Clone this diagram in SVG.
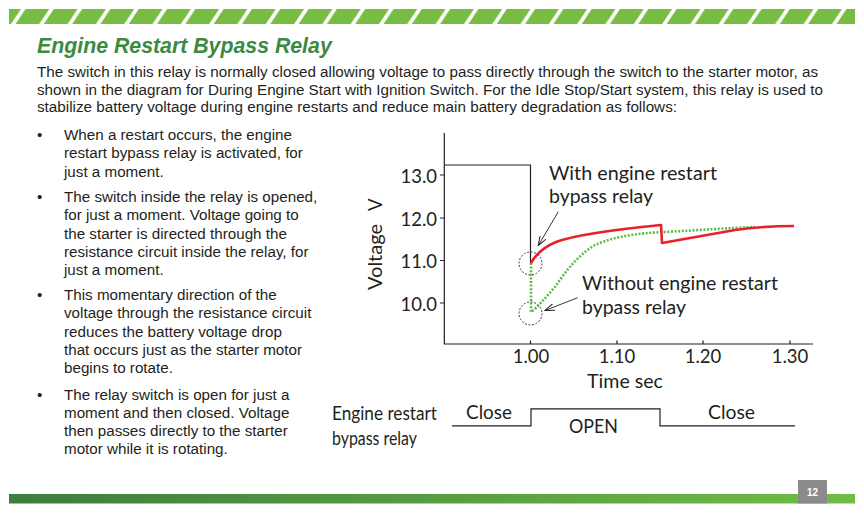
<svg xmlns="http://www.w3.org/2000/svg" width="864" height="513" viewBox="0 0 864 513">
<defs>
<pattern id="stripes" patternUnits="userSpaceOnUse" x="10" y="9" width="28.31" height="15">
<rect x="0" y="0" width="28.31" height="15" fill="#77bc43"/>
<polygon points="1,15 5.5,15 15.5,0 11,0" fill="#ffffff"/>
</pattern>
<linearGradient id="barGrad" x1="0" y1="0" x2="1" y2="0">
<stop offset="0" stop-color="#3b7e3f"/>
<stop offset="1" stop-color="#70bd44"/>
</linearGradient>
<marker id="openArrow" viewBox="0 0 10 8" refX="9.5" refY="4" markerWidth="10" markerHeight="8" markerUnits="userSpaceOnUse" orient="auto">
<path d="M0,0.5 L9.5,4 L0,7.5" fill="none" stroke="#231f20" stroke-width="1"/>
</marker>
<style>
.body{font-family:"Liberation Sans",Arial,sans-serif;font-size:15.2px;fill:#231f20}
.chart{font-family:Lato,"Open Sans",sans-serif;font-size:18.5px;fill:#231f20}
.axis{stroke:#231f20;stroke-width:1.2;fill:none}
.circ{fill:none;stroke:#3a3a3a;stroke-width:1;stroke-dasharray:2 1.6}
.conn{stroke:#231f20;stroke-width:0.9;fill:none;marker-end:url(#openArrow)}
</style>
</defs>
<rect width="864" height="513" fill="#ffffff"/>

<g id="header">
<rect x="9" y="9" width="846" height="15" fill="url(#stripes)"/>
</g>

<g id="title">
<text x="37" y="53" font-family="'Liberation Sans',Arial,sans-serif" font-size="21.3" font-weight="bold" font-style="italic" fill="#3c8a3f">Engine Restart Bypass Relay</text>
</g>

<g id="intro">
<text class="body" x="37" y="77" textLength="781" lengthAdjust="spacingAndGlyphs">The switch in this relay is normally closed allowing voltage to pass directly through the switch to the starter motor, as</text>
<text class="body" x="37" y="94.5" textLength="786" lengthAdjust="spacingAndGlyphs">shown in the diagram for During Engine Start with Ignition Switch. For the Idle Stop/Start system, this relay is used to</text>
<text class="body" x="37" y="112" textLength="640" lengthAdjust="spacingAndGlyphs">stabilize battery voltage during engine restarts and reduce main battery degradation as follows:</text>
</g>

<g id="bullet1">
<text class="body" x="37" y="140">•</text>
<text class="body" x="64" y="140">When a restart occurs, the engine</text>
<text class="body" x="64" y="158.3">restart bypass relay is activated, for</text>
<text class="body" x="64" y="176.6">just a moment.</text>
</g>
<g id="bullet2">
<text class="body" x="37" y="202">•</text>
<text class="body" x="64" y="202">The switch inside the relay is opened,</text>
<text class="body" x="64" y="220.3">for just a moment. Voltage going to</text>
<text class="body" x="64" y="238.6">the starter is directed through the</text>
<text class="body" x="64" y="256.9">resistance circuit inside the relay, for</text>
<text class="body" x="64" y="275.2">just a moment.</text>
</g>
<g id="bullet3">
<text class="body" x="37" y="300">•</text>
<text class="body" x="64" y="300">This momentary direction of the</text>
<text class="body" x="64" y="318.3">voltage through the resistance circuit</text>
<text class="body" x="64" y="336.6">reduces the battery voltage drop</text>
<text class="body" x="64" y="354.9">that occurs just as the starter motor</text>
<text class="body" x="64" y="373.2">begins to rotate.</text>
</g>
<g id="bullet4">
<text class="body" x="37" y="399.5">•</text>
<text class="body" x="64" y="399.5">The relay switch is open for just a</text>
<text class="body" x="64" y="417.8">moment and then closed. Voltage</text>
<text class="body" x="64" y="436.1">then passes directly to the starter</text>
<text class="body" x="64" y="454.4">motor while it is rotating.</text>
</g>

<g id="chart-axes">
<path class="axis" d="M444.3,133 L444.3,344 L813,344"/>
<path class="axis" d="M440,175 H444.3 M440,218 H444.3 M440,260.5 H444.3 M440,303 H444.3"/>
<path class="axis" d="M530.5,344 V340.5 M617,344 V340.5 M703,344 V340.5 M790,344 V340.5"/>
<text class="chart" x="437" y="182.5" text-anchor="end">13.0</text>
<text class="chart" x="437" y="225.5" text-anchor="end">12.0</text>
<text class="chart" x="437" y="268" text-anchor="end">11.0</text>
<text class="chart" x="437" y="310.5" text-anchor="end">10.0</text>
<text class="chart" x="531" y="363" text-anchor="middle">1.00</text>
<text class="chart" x="617" y="363" text-anchor="middle">1.10</text>
<text class="chart" x="703" y="363" text-anchor="middle">1.20</text>
<text class="chart" x="790" y="363" text-anchor="middle">1.30</text>
<text class="chart" x="587" y="388" textLength="76" lengthAdjust="spacingAndGlyphs">Time sec</text>
<text class="chart" transform="translate(382,290) rotate(-90)" font-size="21.5" textLength="66" lengthAdjust="spacingAndGlyphs">Voltage</text>
<text class="chart" transform="translate(382,211) rotate(-90)" font-size="21.5">V</text>
</g>

<g id="trace-initial">
<path class="axis" d="M444.3,165 L530.5,165 L530.5,263"/>
</g>

<g id="trace-without">
<path d="M531,263 L531,312 C537,308 545,298 555,287 C565,272 578,255 595,245 C615,236 640,233 665,232 C700,230 730,228 755,227" fill="none" stroke="#5cbb45" stroke-width="2.6" stroke-dasharray="2 1.6"/>
</g>

<g id="trace-with">
<path d="M531,263 C536,254 544,247 556,242 C575,235 610,230 661,225 L662,243 L735,230 C755,227 775,226 794,226" fill="none" stroke="#e8202a" stroke-width="2.6" stroke-linejoin="round"/>
</g>

<g id="markers">
<circle class="circ" cx="530.5" cy="263.5" r="11.5"/>
<circle class="circ" cx="530.5" cy="313.5" r="11.5"/>
</g>

<g id="label-with">
<text class="chart" x="549" y="180" textLength="168" lengthAdjust="spacingAndGlyphs">With engine restart</text>
<text class="chart" x="549" y="203" textLength="104" lengthAdjust="spacingAndGlyphs">bypass relay</text>
</g>
<g id="label-without">
<text class="chart" x="582" y="290" textLength="196" lengthAdjust="spacingAndGlyphs">Without engine restart</text>
<text class="chart" x="582" y="314" textLength="104" lengthAdjust="spacingAndGlyphs">bypass relay</text>
</g>

<g id="connectors">
<path class="conn" d="M558.3,211.7 L538.3,245.5"/>
<path class="conn" d="M577.7,297.7 L545,310.5"/>
</g>

<g id="relay-timing">
<text class="chart" x="332" y="420" font-size="17.5" textLength="105" lengthAdjust="spacingAndGlyphs">Engine restart</text>
<text class="chart" x="332" y="445" font-size="17.5" textLength="85" lengthAdjust="spacingAndGlyphs">bypass relay</text>
<path class="axis" d="M452,425.8 L531,425.8 L531,408.8 L660,408.8 L660,425.8 L795,425.8"/>
<text class="chart" x="466" y="419" textLength="46" lengthAdjust="spacingAndGlyphs">Close</text>
<text class="chart" x="569" y="432.5" textLength="49" lengthAdjust="spacingAndGlyphs">OPEN</text>
<text class="chart" x="708" y="419" textLength="47" lengthAdjust="spacingAndGlyphs">Close</text>
</g>

<g id="footer">
<rect x="9" y="494" width="846" height="9.5" fill="url(#barGrad)"/>
<rect x="798" y="480" width="29" height="23.5" fill="#8b8b8d"/>
<text x="812.5" y="495.5" text-anchor="middle" font-family="'Liberation Sans',Arial,sans-serif" font-size="10" font-weight="bold" fill="#ffffff">12</text>
</g>
</svg>
